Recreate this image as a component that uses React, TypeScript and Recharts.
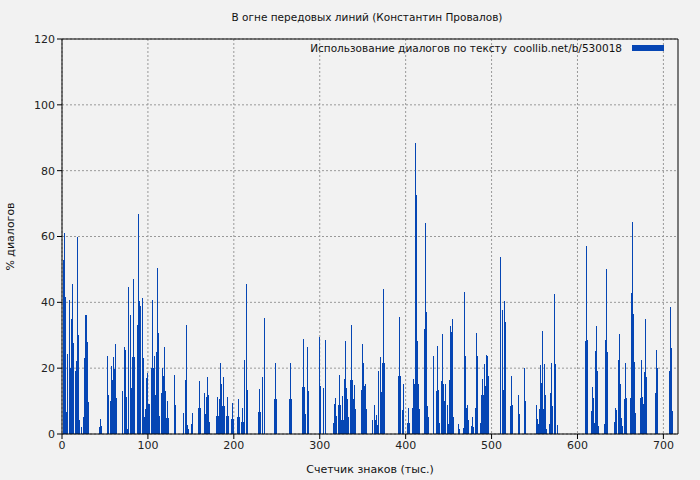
import React from 'react';
import { BarChart, Bar, XAxis, YAxis, CartesianGrid, ReferenceLine, Legend } from 'recharts';

const TITLE = 'В огне передовых линий (Константин Провалов)';
const SERIES = 'Использование диалогов по тексту  coollib.net/b/530018';
const X_LABEL = 'Счетчик знаков (тыс.)';
const Y_LABEL = '% диалогов';

const X_TICKS = [0, 100, 200, 300, 400, 500, 600, 700];
const Y_TICKS = [0, 20, 40, 60, 80, 100, 120];

// position in the text, thousands of characters
const xs = [
  2, 3, 4, 5, 6, 7, 9, 10, 11, 12, 13, 14, 16, 17, 18, 19, 20, 21, 23, 25, 26, 27, 28, 30, 31,
  44, 45, 46, 53, 54, 56, 58, 59, 60, 61, 62, 63, 71, 73, 74, 75, 76, 77, 78, 80, 81, 82, 83, 84,
  88, 89, 90, 91, 92, 94, 95, 96, 97, 98, 99, 101, 102, 104, 105, 106, 108, 109, 110, 111, 112, 113,
  116, 117, 118, 119, 120, 122, 123, 124, 131, 132, 141, 142, 144, 145, 146, 147, 151, 152,
  159, 160, 161, 166, 167, 168, 169, 170, 172, 180, 181, 182, 183, 184, 186, 187, 188, 189,
  191, 193, 194, 197, 198, 200, 204, 205, 207, 209, 210, 211, 212, 213, 215, 216,
  229, 230, 231, 234, 236, 247, 248, 250, 265, 266, 267, 280, 281, 282, 284, 286, 287,
  300, 301, 305, 307, 316, 317, 318, 319, 322, 323, 324, 325, 326, 328, 329, 330, 331, 332, 333,
  336, 337, 338, 339, 340, 342, 349, 350, 351, 352, 353, 354, 362, 364, 365, 366, 367,
  369, 371, 372, 373, 374, 375, 392, 393, 394, 396, 397, 402, 403, 404, 408, 409, 410, 411, 413,
  414, 415, 416, 422, 423, 424, 425, 427, 432, 433, 436, 437, 438, 440, 442, 443, 444, 445, 446,
  447, 449, 450, 451, 452, 453, 454, 456, 461, 463, 467, 468, 470, 471, 472, 473, 477, 478, 479,
  481, 482, 484, 487, 488, 489, 491, 492, 493, 494, 495, 496, 510, 511, 513, 514, 515, 516,
  522, 523, 524, 531, 532, 538, 539, 552, 553, 555, 556, 557, 558, 559, 560, 562, 563, 564,
  567, 569, 570, 571, 573, 574, 575, 577, 609, 610, 612, 616, 617, 619, 620, 621, 622, 623, 624,
  631, 633, 634, 635, 643, 644, 646, 648, 649, 650, 651, 652, 655, 656, 657, 662, 663, 664, 665,
  666, 667, 673, 674, 676, 677, 678, 679, 680, 691, 692, 693, 707, 708, 709, 711
];

// % of dialogue in each block
const dialog = [
  53, 61, 41.7, 6.8, 4.3, 24.3, 40.7, 20.2, 35, 45.6, 27.7, 9.3, 19.2, 22.1, 60, 30, 2, 4.3, 2.2, 5.2, 23, 36, 36, 28, 9.8,
  2.2, 4.7, 2.4, 23.7, 11.9, 10, 20.7, 16.4, 23.3, 19.6, 27.2, 11, 13.2, 26.3, 25.6, 11.3, 1.5, 22, 44.7, 36, 14, 23.3, 47, 23.3,
  33, 66.8, 40.5, 22, 39, 41.3, 23, 5.2, 7.5, 16.9, 18.4, 9.1, 9.1, 20.2, 40.7, 20.2, 23.7, 11.9, 24.9, 50.4, 30.7, 5.4,
  12.6, 19.9, 17.7, 26.5, 13.2, 4.9, 10, 4.9, 18, 8.9, 3, 6.4, 16.4, 33, 2.8, 1.5, 3, 6.4,
  7.8, 16, 7.8, 12.4, 6, 11.3, 17.4, 12, 3.5, 5.4, 11.2, 5.4, 10.6, 21.6, 15.1, 8.4, 17.4, 8.4,
  5.4, 11.2, 5.4, 4.5, 9.3, 4.5, 5.1, 10.6, 5.1, 3.7, 8, 3.7, 6, 22.5, 45.6, 13.4,
  6.6, 13.7, 6.6, 17.4, 35.3, 10.6, 21.5, 10.6, 10.6, 21.5, 10.6, 14.3, 28.9, 14.3, 6, 26.3, 13,
  29.4, 14.5, 14, 28.6, 3.4, 9.1, 10.9, 5.4, 8.9, 18, 8.9, 4.3, 11.6, 4.3, 16.7, 28.3, 14, 10.6, 5.1,
  16.4, 33, 16.4, 10.6, 15, 7.5, 13.4, 27.4, 21.6, 14.5, 15.1, 7.5, 4.3, 8.9, 4.3, 5.8, 2.8,
  19, 23.5, 12.9, 21.7, 44, 21.7, 17.7, 35.6, 17.7, 7.2, 15.1, 3.4, 7.8, 3.4, 8, 16.7, 15.2, 88.4, 72.7,
  28.3, 15.1, 7.5, 31.9, 64.1, 37.1, 8.4, 5.1, 23.7, 11.9, 13.2, 26.6, 13.4, 3.4, 16, 30.4, 15.1, 10, 11.6,
  15.1, 8.9, 2.9, 16.4, 32.7, 30.9, 34.9, 5.1, 2.9, 1.5, 1.8, 43.1, 23.7, 7.8, 8.9, 4.3, 2.4, 5.1, 2.2,
  8, 30.7, 23.7, 3.4, 12, 16.7, 11.9, 21.3, 14.6, 23.9, 23.7, 17.7, 33.3, 53.7, 37.7, 13.4, 40.5, 34,
  8.4, 17.7, 8.9, 12, 6, 20, 10, 8.9, 4.5, 2.9, 7.5, 21, 15.4, 31.2, 7.5, 21.3, 12, 1.5,
  2.9, 12.4, 21.7, 8.4, 42.5, 21.3, 5.8, 2.8, 28.3, 57, 28.6, 7, 14.3, 10.9, 3.4, 25.2, 32.9, 19.1, 2.4,
  3.1, 28.6, 50.2, 24.9, 3.7, 8, 7.2, 22.5, 30.4, 15.1, 4.9, 2.4, 10.6, 21.7, 10.9, 10.9, 42.8, 64.4, 36.5,
  22, 6.4, 10.9, 22.5, 11.2, 9.1, 18.7, 34.9, 17.4, 12.4, 25.5, 20, 19.1, 38.5, 26, 7
];

const X_MAX = 717;
const BLUE = '#0646b4';
const BG = '#f2f2f2';
const FONT = '"DejaVu Sans", Verdana, sans-serif';

const data = xs.map((x, i) => ({ x, value: dialog[i] }));

const tickStyle = { fontSize: 11, fill: '#222', fontFamily: FONT };

const LegendBox = () => (
  <div style={{ display: 'flex', alignItems: 'center', fontFamily: FONT, fontSize: 10.5, color: '#111' }}>
    <span style={{ whiteSpace: 'pre' }}>{SERIES}</span>
    <span style={{ display: 'inline-block', width: 32, height: 6, background: BLUE, marginLeft: 10 }} />
  </div>
);

// snap the 1px bars to whole pixels so they stay sharp
const ThinBar = (props: any) => {
  const { x, y, width, height, fill } = props;
  if (!height || height <= 0) return null;
  const left = Math.floor(x + width / 2);
  const top = Math.round(y);
  const bottom = Math.round(y + height);
  return <rect x={left} y={top} width={1} height={bottom - top} fill={fill} />;
};

export default function App() {
  return (
    <div style={{ position: 'absolute', left: 0, top: 0, width: 700, height: 480, background: BG }}>
      <div
        style={{
          position: 'absolute', top: 11, left: 0, width: 734, textAlign: 'center',
          fontFamily: FONT, fontSize: 10.5, color: '#111'
        }}
      >
        {TITLE}
      </div>
      <BarChart
        width={700}
        height={480}
        data={data}
        margin={{ top: 39, right: 22, bottom: 0, left: 0 }}
        barSize={1}
      >
        <CartesianGrid stroke="#999" strokeDasharray="2 2" horizontalValues={Y_TICKS} verticalValues={X_TICKS} />
        <XAxis
          type="number"
          dataKey="x"
          domain={[0, X_MAX]}
          ticks={X_TICKS}
          allowDataOverflow
          height={46}
          stroke="#000"
          tickSize={5}
          tick={tickStyle}
          label={{ value: X_LABEL, position: 'insideBottom', offset: 7, style: { ...tickStyle, fill: '#111' } }}
        />
        <YAxis
          type="number"
          domain={[0, 120]}
          ticks={Y_TICKS}
          width={62}
          stroke="#000"
          tickSize={5}
          tick={tickStyle}
          label={({ viewBox }: any) => (
            <text
              x={14}
              y={viewBox.y + viewBox.height / 2}
              transform={`rotate(-90 14 ${viewBox.y + viewBox.height / 2})`}
              textAnchor="middle"
              style={{ ...tickStyle, fill: '#111' }}
            >
              {Y_LABEL}
            </text>
          )}
        />
        <ReferenceLine y={120} stroke="#000" />
        <ReferenceLine x={X_MAX} stroke="#000" />
        <Legend
          layout="horizontal"
          verticalAlign="middle"
          align="center"
          wrapperStyle={{ top: 42, left: 'auto', right: 36, width: 'auto' }}
          content={() => <LegendBox />}
        />
        <Bar dataKey="value" fill={BLUE} isAnimationActive={false} shape={ThinBar} />
      </BarChart>
    </div>
  );
}
